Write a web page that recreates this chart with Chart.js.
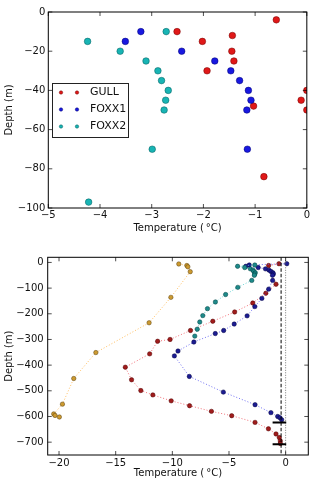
<!DOCTYPE html>
<html><head><meta charset="utf-8">
<script src="https://cdn.jsdelivr.net/npm/chart.js@4.4.0/dist/chart.umd.min.js"></script>
<style>
html,body{margin:0;padding:0;background:#fff;}
canvas{display:block;}
</style></head><body>
<canvas id="c1" width="311" height="240"></canvas>
<canvas id="c2" width="311" height="240"></canvas>
<script>
// ---- data (temperature in °C, depth in m) ----
const stationNames = ['TD5', 'GULL', 'FOXX1', 'FOXX2'];

// near-surface samples (top panel)
const gullNearTemp  = [-0.59, -2.51, -1.44, -2.02, -1.45, -1.41, -1.93, 0.0, -0.11, -1.03, 0.0, -0.83];
const gullNearDepth = [-4, -10, -12, -15, -20, -25, -30, -40, -45, -48, -50, -84];

// full profiles (bottom panel; FOXX1/FOXX2 also used in top panel)
const td5Temp  = [-9.43, -8.72, -8.63, -8.42, -10.13, -12.05, -16.75, -18.7, -19.7, -20.47, -20.35, -19.97];
const td5Depth = [-6, -12, -17, -36, -136, -235, -351, -452, -552, -590, -596, -602];

const gullTemp  = [-0.59, -1.5, -0.85, -1.75, -2.9, -4.5, -6.43, -8.4, -10.2, -11.3, -12.0, -14.15, -13.6, -12.78, -11.72, -10.1, -8.48, -6.55, -4.76, -2.7, -1.52, -0.85, -0.56, -0.47, -0.47];
const gullDepth = [-5, -12, -85, -120, -158, -193, -229, -265, -300, -307, -356, -408, -457, -499, -516, -539, -558, -580, -597, -623, -648, -668, -682, -695, -705];

const foxx1Temp  = [0.1, -3.21, -3.51, -2.42, -1.78, -1.47, -1.30, -1.13, -1.08, -1.16, -1.15, -1.5, -2.1, -2.72, -3.4, -4.54, -5.47, -6.21, -8.1, -9.5, -9.82, -8.5, -5.5, -2.7, -1.3, -0.7, -0.5, -0.35];
const foxx1Depth = [-5, -10, -15, -20, -25, -30, -35, -40, -45, -50, -70, -104, -140, -172, -208, -240, -265, -277, -310, -345, -364, -444, -505, -554, -585, -600, -605, -613];

const foxx2Temp  = [-2.72, -4.24, -3.61, -3.11, -2.88, -2.81, -2.68, -2.73, -2.76, -2.99, -4.22, -5.3, -6.2, -6.9, -7.31, -7.58, -7.8, -8.02];
const foxx2Depth = [-10, -15, -20, -25, -30, -35, -40, -45, -50, -70, -97, -125, -154, -180, -207, -232, -260, -287];

const topXTicks = [-5, -4, -3, -2, -1, 0];
const topYTicks = [0, -20, -40, -60, -80, -100];
const botXTicks = [-20, -15, -10, -5, 0];
const botYTicks = [0, -100, -200, -300, -400, -500, -600, -700];

const dashedLineTemp = -0.4;
const dottedLineTemp = 0;
const seafloorDepths = [-623, -708];
const seafloorTempRange = [-1.15, 0.05];

// ---- styling ----
const F = 'DejaVu Sans';
const topColors = {GULL: '#e01818', FOXX1: '#1818e0', FOXX2: '#18b4b4'};
const topEdges  = {GULL: '#700000', FOXX1: '#000070', FOXX2: '#005a5a'};
const botMarker = {TD5: '#cc9a30', GULL: '#a01c1c', FOXX1: '#1c1c92', FOXX2: '#1e8a8a'};
const botEdge   = {TD5: '#5a4010', GULL: '#500000', FOXX1: '#000040', FOXX2: '#004040'};
const botLine   = {TD5: 'rgba(255,180,70,0.85)', GULL: 'rgba(240,90,100,0.85)', FOXX1: 'rgba(90,90,240,0.85)', FOXX2: 'rgba(80,205,205,0.85)'};

const xy = (ts, ds) => ts.map((t, i) => ({x: t, y: ds[i]}));
const series = {
  TD5: xy(td5Temp, td5Depth),
  GULL: xy(gullTemp, gullDepth),
  FOXX1: xy(foxx1Temp, foxx1Depth),
  FOXX2: xy(foxx2Temp, foxx2Depth)
};
const topSeries = {
  GULL: xy(gullNearTemp, gullNearDepth),
  FOXX1: series.FOXX1,
  FOXX2: series.FOXX2
};
const fmt = v => (v < 0 ? '\u2212' : '') + Math.abs(v);

const framePlugin = {
  id: 'frame',
  afterDatasetsDraw(chart) {
    const {ctx, chartArea: a, scales} = chart;
    ctx.save();
    ctx.strokeStyle = '#000';
    ctx.lineWidth = 1;
    ctx.strokeRect(a.left, a.top, a.right - a.left, a.bottom - a.top);
    ctx.lineWidth = 0.7;
    ctx.beginPath();
    scales.x.ticks.forEach(t => {
      const p = scales.x.getPixelForValue(t.value);
      ctx.moveTo(p, a.bottom); ctx.lineTo(p, a.bottom - 4);
      ctx.moveTo(p, a.top); ctx.lineTo(p, a.top + 4);
    });
    scales.y.ticks.forEach(t => {
      const p = scales.y.getPixelForValue(t.value);
      ctx.moveTo(a.left, p); ctx.lineTo(a.left + 4, p);
      ctx.moveTo(a.right, p); ctx.lineTo(a.right - 4, p);
    });
    ctx.stroke();
    ctx.restore();
  }
};

const legendPlugin = {
  id: 'customLegend',
  afterDraw(chart, args, o) {
    if (!o || !o.items) return;
    const ctx = chart.ctx;
    ctx.save();
    ctx.fillStyle = '#fff';
    ctx.fillRect(o.box[0], o.box[1], o.box[2], o.box[3]);
    ctx.strokeStyle = '#222';
    ctx.lineWidth = 1;
    ctx.strokeRect(o.box[0], o.box[1], o.box[2], o.box[3]);
    o.items.forEach((it, i) => {
      const y = o.y0 + i * o.dy;
      if (o.line) {
        ctx.strokeStyle = it.line;
        ctx.lineWidth = 1.5;
        ctx.beginPath(); ctx.moveTo(o.mx[0], y); ctx.lineTo(o.mx[1], y); ctx.stroke();
      }
      o.mx.forEach(mx => {
        ctx.beginPath();
        ctx.arc(mx, y, o.r, 0, Math.PI * 2);
        ctx.fillStyle = it.fill; ctx.fill();
        ctx.strokeStyle = it.edge; ctx.lineWidth = 0.5; ctx.stroke();
      });
      ctx.fillStyle = '#111';
      ctx.font = o.fontSize + 'px "' + F + '"';
      ctx.textBaseline = 'middle';
      ctx.textAlign = 'left';
      ctx.fillText(it.label, o.tx, y);
    });
    ctx.restore();
  }
};

function xScale(min, max, ticks, pad, titlePad, h) {
  return {
    type: 'linear', min, max,
    afterBuildTicks: s => { s.ticks = ticks.map(v => ({value: v})); },
    grid: {display: false, drawTicks: false}, border: {display: false},
    ticks: {padding: pad, color: '#111', font: {family: F, size: 10}, callback: v => fmt(v), maxRotation: 0, autoSkip: false},
    title: {display: true, text: 'Temperature (\u2009°C)', color: '#111', font: {family: F, size: 10}, padding: {top: 0, bottom: titlePad}},
    afterFit: s => { s.height = h; }
  };
}
function yScale(min, max, ticks, pad, w) {
  return {
    type: 'linear', min, max,
    afterBuildTicks: s => { s.ticks = ticks.map(v => ({value: v})); },
    grid: {display: false, drawTicks: false}, border: {display: false},
    ticks: {padding: pad, color: '#111', font: {family: F, size: 10}, callback: v => fmt(v), autoSkip: false},
    title: {display: true, text: 'Depth (m)', color: '#111', font: {family: F, size: 10}, padding: {top: 3.5, bottom: 0}},
    afterFit: s => { s.width = w; }
  };
}

// ---- top chart: near-surface scatter ----
const topNames = ['GULL', 'FOXX1', 'FOXX2'];
new Chart(document.getElementById('c1'), {
  type: 'scatter',
  data: {
    datasets: topNames.slice().reverse().map(n => ({
      label: n, data: topSeries[n], showLine: false, clip: 0,
      pointRadius: 3.3, pointHoverRadius: 3.3,
      pointBackgroundColor: topColors[n], pointBorderColor: topEdges[n], pointBorderWidth: 0.5
    }))
  },
  options: {
    responsive: false, animation: false, devicePixelRatio: 1,
    layout: {padding: {left: 0, right: 2.7, top: 12, bottom: 0}},
    plugins: {
      legend: {display: false}, tooltip: {enabled: false},
      customLegend: {
        box: [52.5, 83.5, 76, 54], y0: 92.5, dy: 17, mx: [61, 77], r: 1.7, tx: 90, fontSize: 11, line: false,
        items: topNames.map(n => ({label: n, fill: topColors[n], edge: topEdges[n]}))
      }
    },
    scales: {x: xScale(-5, 0, topXTicks, 1, 6, 32), y: yScale(-100, 0, topYTicks, 3, 48.3)}
  },
  plugins: [framePlugin, legendPlugin]
});

// ---- bottom chart: full profiles ----
const seafloorSets = seafloorDepths.map(d => ({
  data: [{x: seafloorTempRange[0], y: d}, {x: seafloorTempRange[1], y: d}],
  showLine: true, borderColor: '#000', borderWidth: 2, pointRadius: 0
}));
const vlineSets = [
  {data: [{x: dashedLineTemp, y: 20}, {x: dashedLineTemp, y: -750}], showLine: true, borderColor: '#000', borderWidth: 1, borderDash: [3.5, 2], pointRadius: 0},
  {data: [{x: dottedLineTemp, y: 20}, {x: dottedLineTemp, y: -750}], showLine: true, borderColor: '#777', borderWidth: 1, borderDash: [1, 1.5], pointRadius: 0}
];
const stationSets = stationNames.slice().reverse().map(n => ({
  label: n, data: series[n], showLine: true,
  borderColor: botLine[n], borderWidth: 1, borderDash: [1, 2],
  pointRadius: 2.2, pointHoverRadius: 2.2,
  pointBackgroundColor: botMarker[n], pointBorderColor: botEdge[n], pointBorderWidth: 0.5
}));
new Chart(document.getElementById('c2'), {
  type: 'scatter',
  data: {datasets: [...seafloorSets, ...vlineSets, ...stationSets]},
  options: {
    responsive: false, animation: false, devicePixelRatio: 1,
    layout: {padding: {left: 0, right: 2, top: 17.3, bottom: 0}},
    plugins: {
      legend: {display: false}, tooltip: {enabled: false},
      customLegend: {
        box: [50.7, 261, 46, 43.3], y0: 267, dy: 9.8, mx: [54, 66], r: 2, tx: 72.3, fontSize: 7, line: true,
        items: stationNames.map(n => ({label: n, fill: botMarker[n], edge: botEdge[n], line: botLine[n]}))
      }
    },
    scales: {x: xScale(-21, 2, botXTicks, 2.5, 1, 25), y: yScale(-750, 20, botYTicks, 4, 47.7)}
  },
  plugins: [framePlugin, legendPlugin]
});
</script>
</body></html>
